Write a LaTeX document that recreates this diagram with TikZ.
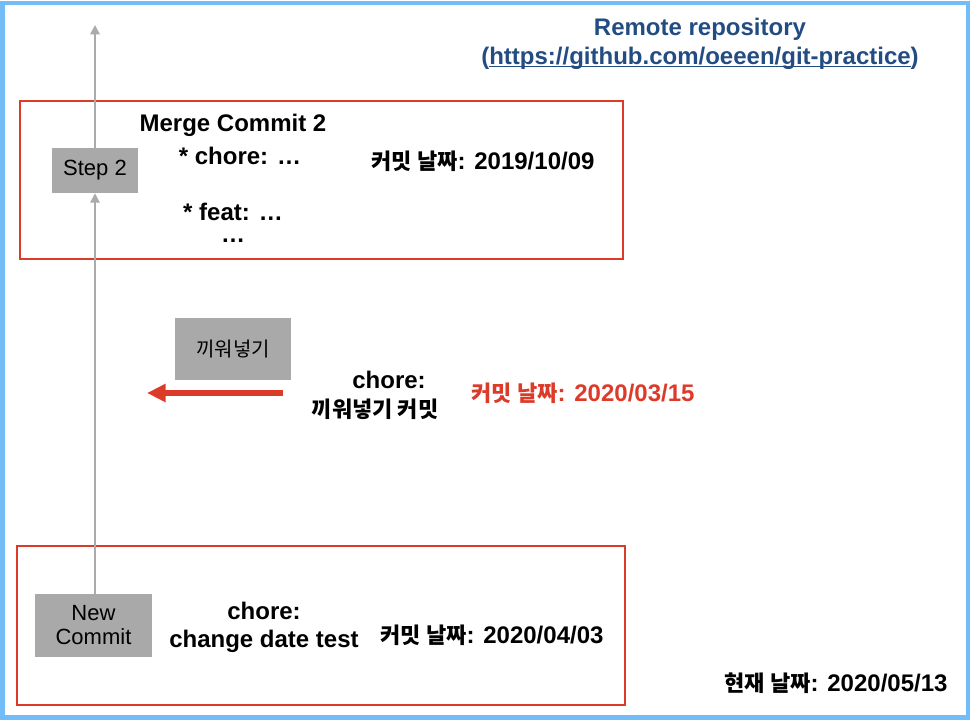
\documentclass[tikz,border=0pt]{standalone}
\usepackage{fontspec}
\setmainfont{Liberation Sans}
\newfontfamily\kr{Noto Sans CJK KR}
\usetikzlibrary{arrows.meta}
\definecolor{borderblue}{HTML}{72BDF7}
\definecolor{boxred}{HTML}{DD3B2A}
\definecolor{boxgray}{HTML}{A9A9A9}
\definecolor{linegray}{HTML}{ABABAB}
\definecolor{titleblue}{HTML}{234D82}
\begin{document}
\begin{tikzpicture}[x=0.75pt,y=-0.75pt,
  frame/.style={draw=boxred,line width=1.5pt},
  gbox/.style={fill=boxgray,inner sep=0pt,align=center,font=\fontsize{16.5}{19}\selectfont},
  btxt/.style={font=\bfseries\fontsize{18}{21}\selectfont,align=center,inner sep=0pt},
  flow/.style={draw=linegray,line width=1.4pt,-{Triangle[length=7pt,width=7pt]}}]
\useasboundingbox (0,0) rectangle (972,721);
\draw[borderblue,line width=3.5pt] (2.5,3) rectangle (968,717.5);
% frames
\node[frame,minimum width=603*0.75pt,minimum height=158*0.75pt,inner sep=0pt] (top) at (321.5,180) {};
\node[frame,minimum width=608*0.75pt,minimum height=159*0.75pt,inner sep=0pt] (bot) at (321,625.5) {};
% gray boxes
\node[gbox,minimum width=86*0.75pt,minimum height=45*0.75pt] (step) at (95,170.5) {Step 2};
\node[gbox,minimum width=117*0.75pt,minimum height=63*0.75pt] (new) at (93.5,625.5) {New\\[-1pt]Commit};
\node[gbox,minimum width=116*0.75pt,minimum height=62*0.75pt,font=\kr\fontsize{15}{17}\selectfont] (ins) at (233,349) {끼워넣기};
\coordinate (topend) at (95,25);
\draw[flow] (new.north -| step.south) -- (step.south);
\draw[flow] (step.north) -- (topend);
% red arrow
\coordinate (rs) at (283,393);
\coordinate (re) at (147,393);
\draw[boxred,line width=3.8pt,-{Triangle[length=14pt,width=13pt]}] (rs) -- (re);
% texts
\node[btxt,text=titleblue] (remote) at (700,29) {Remote repository};
\node[btxt,text=titleblue] (url) at (700,58) {(\underline{\smash{https://github.com/oeeen/git-practice}})};
\node[btxt] (merge) at (233,125) {Merge Commit 2};
\node[btxt] (mc1) at (240,156) {* chore: …};
\node[btxt] (mc2) at (233,212) {* feat: …};
\node[btxt] (mc3) at (233,241) {…};
\node[btxt] (d1) at (483,161) {{\kr\bfseries\fontsize{16.5}{20}\selectfont 커밋 날짜}: 2019/10/09};
\node[btxt] (c2a) at (389,380) {chore:};
\node[btxt] (c2b) at (375,409) {\kr\bfseries\fontsize{16.5}{20}\selectfont 끼워넣기 커밋};
\node[btxt,text=boxred] (d2) at (583,393) {{\kr\bfseries\fontsize{16.5}{20}\selectfont 커밋 날짜}: 2020/03/15};
\node[btxt] (c3a) at (264,611) {chore:};
\node[btxt] (c3b) at (264,641) {change date test};
\node[btxt] (d3) at (492,635) {{\kr\bfseries\fontsize{16.5}{20}\selectfont 커밋 날짜}: 2020/04/03};
\node[btxt] (now) at (836,683) {{\kr\bfseries\fontsize{16.5}{20}\selectfont 현재 날짜}: 2020/05/13};
\end{tikzpicture}
\end{document}
